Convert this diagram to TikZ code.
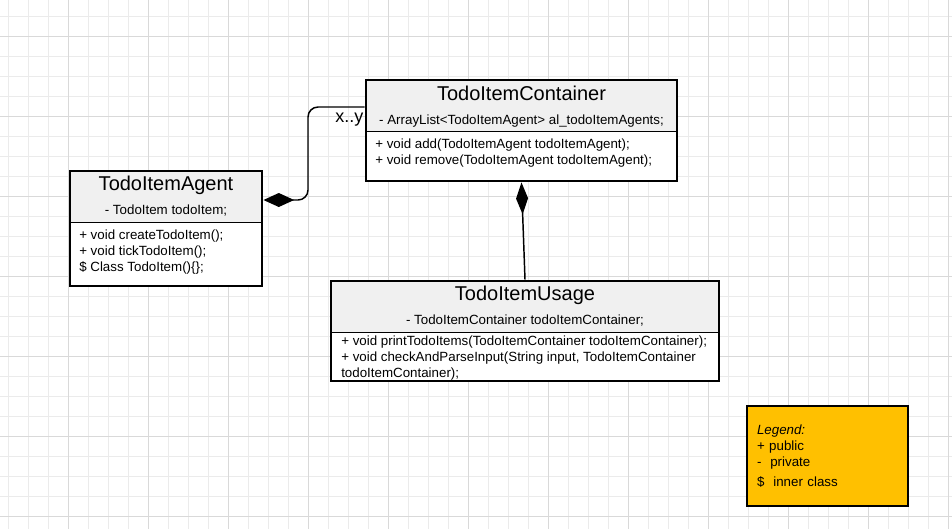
\documentclass[tikz,border=0pt]{standalone}
\usepackage{fontspec}
\setmainfont{Liberation Sans}
\usetikzlibrary{arrows.meta}
\definecolor{gridminor}{HTML}{EBEBEB}
\definecolor{gridmajor}{HTML}{D9D9D9}
\definecolor{headgray}{HTML}{F0F0F0}
\definecolor{legendfill}{HTML}{FFC000}

\begin{document}
\begin{tikzpicture}[x=0.75pt,y=-0.75pt]
		\tikzset{class/.style = {shape=rectangle, draw, line width=2.2pt, fill=white, inner sep=0pt,
				path picture={
					\fill[headgray] (path picture bounding box.north west) rectangle ([yshift=-38.5pt]path picture bounding box.north east);
					\draw[line width=0.8pt] ([yshift=-38.5pt]path picture bounding box.north west) -- ([yshift=-38.5pt]path picture bounding box.north east);
				}}}
		\tikzset{title/.style = {anchor=base, inner sep=0pt, font=\fontsize{15pt}{18pt}\selectfont}}
		\tikzset{attr/.style = {anchor=base, inner sep=0pt, font=\fontsize{10pt}{12pt}\selectfont}}
		\tikzset{methods/.style = {anchor=north west, inner sep=0pt, align=left, font=\fontsize{10pt}{12pt}\selectfont}}
		\tikzset{link/.style = {line width=1.1pt}}

		\useasboundingbox (0,0) rectangle (952,529);

		% grid
		\foreach \x in {8,28,...,948} \draw[gridminor, line width=0.75pt] (\x,0) -- (\x,529);
		\foreach \y in {16,36,...,516} \draw[gridminor, line width=0.75pt] (0,\y) -- (952,\y);
		\foreach \x in {68,148,...,948} \draw[gridmajor, line width=0.75pt] (\x,0) -- (\x,529);
		\foreach \y in {36,116,...,516} \draw[gridmajor, line width=0.75pt] (0,\y) -- (952,\y);

		\node[class, minimum width=233.25pt, minimum height=75.75pt] (C_Container) at (521.5,130.5) {};
		\node[class, minimum width=144pt, minimum height=86.25pt] (C_Agent) at (166,228.5) {};
		\node[class, minimum width=291pt, minimum height=75pt] (C_Usage) at (525,331) {};

		\node[title] (T_Container) at (521.5,100) {TodoItemContainer};
		\node[attr] (A_Container) at (521.5,124) {- ArrayList<TodoItemAgent> al\_todoItemAgents;};
		\node[methods] (M_Container) at (375,138.5) {+ void add(TodoItemAgent todoItemAgent);\\+ void remove(TodoItemAgent todoItemAgent);};

		\node[title] (T_Agent) at (166,190) {TodoItemAgent};
		\node[attr] (A_Agent) at (166,214) {- TodoItem todoItem;};
		\node[methods] (M_Agent) at (79,229.5) {+ void createTodoItem();\\+ void tickTodoItem();\\\$ Class TodoItem()\{\};};

		\node[title] (T_Usage) at (525,300) {TodoItemUsage};
		\node[attr] (A_Usage) at (525,324) {- TodoItemContainer todoItemContainer;};
		\node[methods] (M_Usage) at (341,335.5) {+ void printTodoItems(TodoItemContainer todoItemContainer);\\+ void checkAndParseInput(String input, TodoItemContainer\\todoItemContainer);};

		\node[draw, line width=2.2pt, fill=legendfill, text width=105.75pt, inner sep=7.5pt, minimum height=75pt, align=left,
			font=\fontsize{10pt}{12pt}\selectfont] (Legend) at (827.5,456)
			{\textit{Legend:}\\+ public\\-\ \ private\\[3pt]\$\ \ inner class};

		\coordinate (B_1) at (308,150);
		\draw[link, rounded corners=7.5pt, {Diamond[length=23pt, width=10.5pt]}-] ([shift={(0,-28.5)}]C_Agent.east) -| (B_1) |- ([shift={(0,-23.5)}]C_Container.west);
		\node[anchor=base west, inner sep=0pt, font=\fontsize{13.5pt}{16pt}\selectfont] (X_1) at (335,122) {x..y};

		\draw[link, {Diamond[length=24pt, width=9pt]}-] (C_Container.south) -- (C_Usage.north);

	\end{tikzpicture}
\end{document}
